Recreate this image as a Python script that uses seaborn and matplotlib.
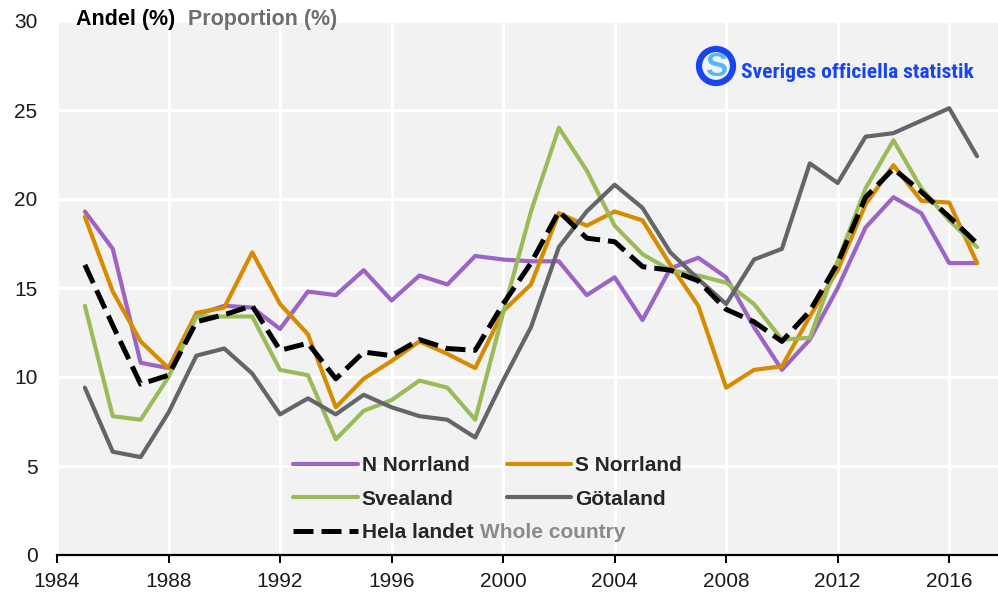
import matplotlib
matplotlib.use("Agg")
import matplotlib.pyplot as plt
from matplotlib.patches import Circle
import numpy as np
import pandas as pd
import seaborn as sns

# Share of the population (%) per region, 1985-2017
years = list(range(1985, 2018))

n_norrland = [19.3, 17.2, 10.8, 10.5, 13.5, 14.0, 13.9, 12.7, 14.8, 14.6, 16.0,
              14.3, 15.7, 15.2, 16.8, 16.6, 16.5, 16.5, 14.6, 15.6, 13.2, 16.1,
              16.7, 15.6, 12.8, 10.4, 12.1, 15.0, 18.4, 20.1, 19.2, 16.4, 16.4]
s_norrland = [19.0, 14.8, 12.0, 10.5, 13.6, 13.9, 17.0, 14.1, 12.4, 8.3, 9.9,
              10.9, 12.0, 11.3, 10.5, 13.7, 15.2, 19.2, 18.5, 19.3, 18.8, 16.3,
              14.0, 9.4, 10.4, 10.6, 13.4, 16.0, 19.7, 21.9, 19.9, 19.8, 16.4]
svealand = [14.0, 7.8, 7.6, 10.0, 13.4, 13.4, 13.4, 10.4, 10.1, 6.5, 8.1,
            8.7, 9.8, 9.4, 7.6, 13.6, 19.3, 24.0, 21.6, 18.5, 16.9, 16.0,
            15.7, 15.3, 14.1, 12.1, 12.2, 16.5, 20.6, 23.3, 20.6, 18.8, 17.3]
gotaland = [9.4, 5.8, 5.5, 8.0, 11.2, 11.6, 10.2, 7.9, 8.8, 7.9, 9.0,
            8.3, 7.8, 7.6, 6.6, 9.8, 12.8, 17.3, 19.3, 20.8, 19.5, 17.0,
            15.5, 14.1, 16.6, 17.2, 22.0, 20.9, 23.5, 23.7, 24.4, 25.1, 22.4]
hela_landet = [16.3, 12.9, 9.6, 10.1, 13.1, 13.5, 14.0, 11.5, 11.9, 9.9, 11.4,
               11.2, 12.1, 11.6, 11.5, 14.1, 16.4, 19.3, 17.8, 17.6, 16.2, 16.0,
               15.4, 13.8, 13.1, 12.0, 13.7, 16.4, 20.1, 21.7, 20.4, 19.0, 17.5]

series_names = ["N Norrland", "S Norrland", "Svealand", "Götaland", "Hela landet"]
series_values = [n_norrland, s_norrland, svealand, gotaland, hela_landet]
colors = ["#9b64c6", "#d68b00", "#9bbb59", "#646569", "#000000"]

x_ticks = list(range(1984, 2017, 4))
y_ticks = list(range(0, 31, 5))

df = pd.DataFrame({"År": np.tile(years, len(series_names)),
                   "Andel": np.concatenate(series_values),
                   "Region": np.repeat(series_names, len(years))})

sns.set_theme(style="darkgrid", rc={
    "axes.facecolor": "#f2f2f2",
    "grid.color": "white",
    "grid.linewidth": 2.2,
})
plt.rcParams["font.family"] = ["Liberation Sans", "DejaVu Sans"]

W, H = 998, 593
fig = plt.figure(figsize=(W / 100, H / 100), dpi=100)
ax = fig.add_axes([57 / W, 1 - 555 / H, 1 - 57 / W, (555 - 21) / H])

handles = {}
for name, color in zip(series_names, colors):
    sub = df[df["Region"] == name]
    if name == "Hela landet":
        sns.lineplot(data=sub, x="År", y="Andel", ax=ax, color=color,
                     linewidth=3.6, linestyle=(0, (4, 1.6)), label=name)
    else:
        sns.lineplot(data=sub, x="År", y="Andel", ax=ax, color=color,
                     linewidth=3.0, label=name)
    handles[name] = ax.get_lines()[-1]

ax.set_xlim(1984, 2017.75)
ax.set_ylim(0, 30)
ax.set_xticks(x_ticks)
ax.set_yticks(y_ticks)
ax.set_xlabel("")
ax.set_ylabel("")
ax.tick_params(axis="x", which="both", direction="out", length=6, width=1.4,
               color="black", labelsize=15, pad=6, bottom=True)
ax.tick_params(axis="y", length=0, labelsize=15, pad=14)
for lab in ax.get_xticklabels() + ax.get_yticklabels():
    lab.set_color("#1a1a1a")

for side in ["top", "right", "left"]:
    ax.spines[side].set_visible(False)
ax.spines["bottom"].set_visible(True)
ax.spines["bottom"].set_color("black")
ax.spines["bottom"].set_linewidth(1.6)

# Legend: two columns, filled column by column
order = ["N Norrland", "Svealand", "Hela landet", "S Norrland", "Götaland"]
leg = ax.legend([handles[k] for k in order], order, ncol=2, frameon=False,
                loc="upper left", bbox_to_anchor=(293 / W, 1 - 456 / H),
                bbox_transform=fig.transFigure, borderpad=0, borderaxespad=0,
                handlelength=3.1, handletextpad=0.2, columnspacing=1.6,
                labelspacing=0.7, prop={"size": 15, "weight": "bold"})

# Axis title above the plot
t1 = fig.text(76 / W, 1 - 20 / H, "Andel (%)", fontsize=15.5,
              fontweight="bold", color="black", va="center", ha="left")

# Source badge
bx, by = 716, 66
fig.patches.append(Circle((bx, H - by), 17, transform=None, fill=False,
                          edgecolor="#1746f0", linewidth=4.5, zorder=10))
fig.text(bx / W, 1 - (by + 1) / H, "S", fontsize=24, fontweight="bold",
         color="#55b8f5", ha="center", va="center", zorder=11)
sos = fig.text(741 / W, 1 - 72 / H, "Sveriges officiella statistik",
               fontsize=15.5, fontweight="bold", color="#1746f0",
               family=["Roboto Condensed", "Roboto"], fontstretch="condensed",
               ha="left", va="center", zorder=11)

fig.canvas.draw()
renderer = fig.canvas.get_renderer()

# Fit the badge caption to its slot
bb = sos.get_window_extent(renderer)
sos.set_fontsize(15.5 * 232 / bb.width)

# Place the English labels right after their Swedish counterparts
hela_text = [t for t in leg.get_texts() if t.get_text() == "Hela landet"][0]
hb = hela_text.get_window_extent(renderer)
fig.text((hb.x1 + 7) / W, hb.y0 / H, "Whole country", fontsize=15,
         fontweight="bold", color="#8a8a8a", ha="left", va="bottom")
tb = t1.get_window_extent(renderer)
fig.text((tb.x1 + 13) / W, tb.y0 / H, "Proportion (%)", fontsize=15.5,
         fontweight="bold", color="#6e6e6e", ha="left", va="bottom")

fig.savefig("out.png", dpi=100)
